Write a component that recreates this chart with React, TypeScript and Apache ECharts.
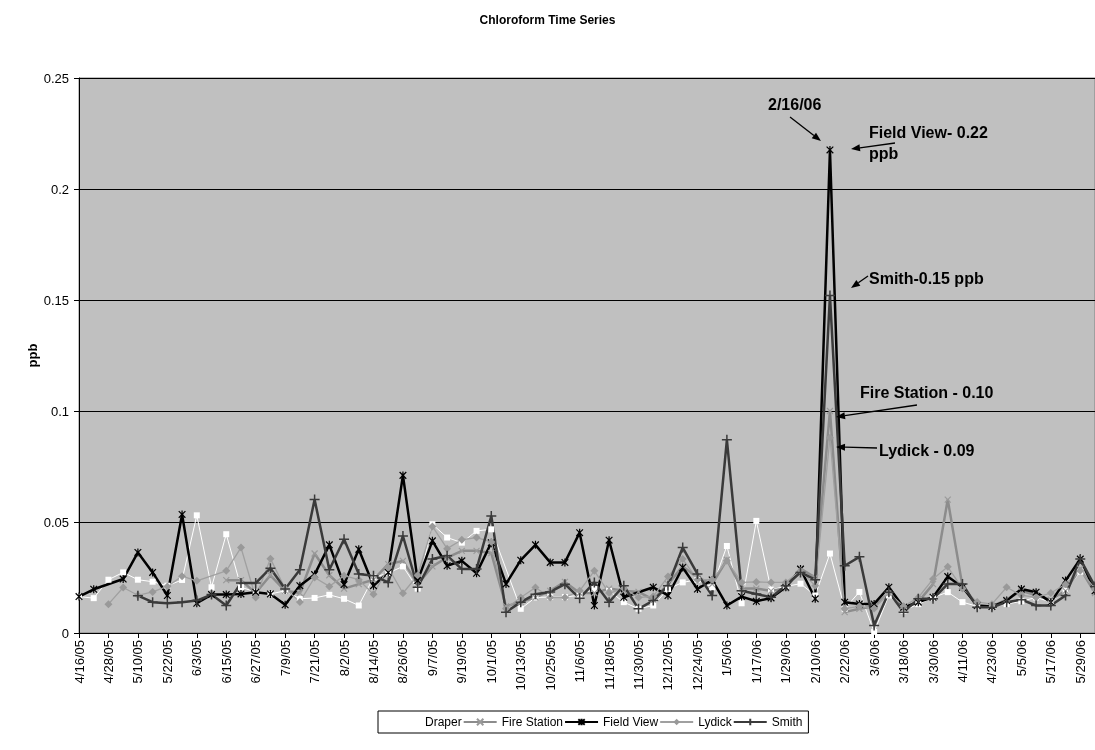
import React, { useEffect, useRef } from "react";
import * as echarts from "echarts";

const dates = ["4/16/05","4/22/05","4/28/05","5/4/05","5/10/05","5/16/05","5/22/05","5/28/05","6/3/05","6/9/05","6/15/05","6/21/05","6/27/05","7/3/05","7/9/05","7/15/05","7/21/05","7/27/05","8/2/05","8/8/05","8/14/05","8/20/05","8/26/05","9/1/05","9/7/05","9/13/05","9/19/05","9/25/05","10/1/05","10/7/05","10/13/05","10/19/05","10/25/05","10/31/05","11/6/05","11/12/05","11/18/05","11/24/05","11/30/05","12/6/05","12/12/05","12/18/05","12/24/05","12/30/05","1/5/06","1/11/06","1/17/06","1/23/06","1/29/06","2/4/06","2/10/06","2/16/06","2/22/06","2/28/06","3/6/06","3/12/06","3/18/06","3/24/06","3/30/06","4/5/06","4/11/06","4/17/06","4/23/06","4/29/06","5/5/06","5/11/06","5/17/06","5/23/06","5/29/06","6/4/06"];

const draper = [0.0164,0.0157,0.024,0.0273,0.024,0.0231,0.0213,0.0239,0.053,0.0206,0.0445,0.0206,0.0185,0.0176,0.019,0.0154,0.0158,0.0172,0.0154,0.0124,0.025,0.027,0.03,0.02,0.049,0.043,0.0407,0.046,0.0467,null,0.0109,0.016,0.0162,0.0162,0.017,0.0198,0.019,0.0139,0.0109,0.0124,0.0198,0.0228,0.024,0.0206,0.0392,0.0134,0.0505,0.0195,0.021,0.0222,0.0169,0.0358,0.0109,0.0185,0.0005,0.0169,0.0101,0.013,0.016,0.0184,0.0139,0.012,0.012,0.013,0.0143,0.016,0.014,0.019,0.0276,0.02];

const fireStation = [null,null,null,null,null,null,null,null,null,null,0.0238,0.0238,0.018,0.026,0.019,0.018,0.0358,0.026,0.02,0.022,0.024,0.031,0.0325,0.022,0.03,0.034,0.037,0.037,0.036,0.012,0.014,0.016,0.019,0.023,0.018,0.018,0.02,0.019,0.0185,0.015,0.022,0.03,0.025,0.022,0.033,0.02,0.02,0.019,0.02,0.029,0.025,0.1,0.0094,0.0109,0.012,0.018,0.011,0.014,0.022,0.0601,0.021,0.012,0.012,0.015,0.019,0.017,0.015,0.019,0.029,0.018];

const fieldView = [0.0164,0.0197,null,0.0243,0.0363,0.0273,0.0169,0.0534,0.0134,0.0173,0.0173,0.0176,0.0184,0.0176,0.0127,0.0213,0.0263,0.0397,0.0218,0.0377,0.0213,0.0273,0.071,0.0236,0.0415,0.0303,0.0325,0.0269,0.0407,0.0221,0.0328,0.0397,0.0318,0.0318,0.0452,0.0124,0.0418,0.0161,null,0.0206,0.0169,0.0295,0.0198,0.0239,0.0124,0.0164,0.0143,0.0158,0.0206,0.0288,0.0154,0.2176,0.0139,0.0131,0.0131,0.0206,0.0116,0.0139,0.0161,0.0254,0.0206,0.0124,0.0119,0.0146,0.0198,0.0184,0.0139,0.0236,0.0333,0.019];

const lydick = [null,null,0.013,0.0205,0.017,0.0185,0.021,0.0256,0.0235,null,0.028,0.0385,0.016,0.0335,0.02,0.014,0.025,0.021,0.0258,0.024,0.0174,0.0295,0.0179,0.026,0.048,0.038,0.042,0.043,0.041,0.011,0.016,0.0205,0.016,0.016,0.019,0.028,0.018,0.02,0.016,0.0165,0.0254,0.0333,0.024,0.024,0.0325,0.0228,0.023,0.0228,0.0228,0.028,0.0213,0.088,0.011,0.012,0.011,0.018,0.012,0.016,0.0243,0.0298,0.02,0.014,0.013,0.0206,0.017,0.016,0.018,0.022,0.028,0.02];

const smith = [null,null,null,null,0.0168,0.0139,0.0134,0.0139,0.0146,0.0173,0.0124,0.0225,0.0225,0.0292,0.0198,0.0285,0.0601,0.0285,0.0422,0.0266,0.0258,0.0228,0.0437,0.0206,0.0333,0.0348,0.0288,0.0288,0.0527,0.0094,0.0139,0.0175,0.0185,0.022,0.0156,0.0228,0.0139,0.0213,0.0109,0.0146,0.0213,0.0385,0.0266,0.0169,0.087,0.019,0.0176,0.0161,0.0213,0.0273,0.024,0.152,0.0303,0.0343,0.0034,0.0184,0.0094,0.0154,0.0154,0.0221,0.0221,0.0116,0.0116,0.0139,0.015,0.0124,0.0124,0.0169,0.0333,0.021];

const yTicks = [0, 0.05, 0.1, 0.15, 0.2, 0.25];

const FONT = "'Liberation Sans', Arial, sans-serif";

function arrow(x1: number, y1: number, x2: number, y2: number) {
  const a = Math.atan2(y2 - y1, x2 - x1);
  const L = 9, W = 3.5;
  const bx = x2 - L * Math.cos(a), by = y2 - L * Math.sin(a);
  const px = -Math.sin(a) * W, py = Math.cos(a) * W;
  return [
    { type: "line", z: 100, shape: { x1, y1, x2: bx, y2: by }, style: { stroke: "#000", lineWidth: 1.3 } },
    { type: "polygon", z: 100, shape: { points: [[x2, y2], [bx + px, by + py], [bx - px, by - py]] }, style: { fill: "#000" } },
  ];
}

function label(text: string, x: number, y: number) {
  return {
    type: "text", z: 100, x, y,
    style: { text, fill: "#000", font: `bold 16px ${FONT}`, textVerticalAlign: "middle", verticalAlign: "middle" },
  };
}

export default function App() {
  const ref = useRef<HTMLDivElement>(null);
  useEffect(() => {
    if (!ref.current) return;
    const chart = echarts.init(ref.current, null, { renderer: "svg" });
    const symX = "path://M0,0L10,10M10,0L0,10";
    const symStar = "path://M0,0L10,10M10,0L0,10M5,-1L5,11";
    const symPlus = "path://M5,0L5,10M0,5L10,5";
    const mk = (name: string, data: any[], color: string, lw: number, symbol: string, size: number, fill: string, stroke: string, bw: number) => ({
      name, type: "line", data, connectNulls: true, silent: true,
      symbol, symbolSize: size, symbolKeepAspect: true, showAllSymbol: true,
      lineStyle: { color, width: lw },
      itemStyle: { color: fill, borderColor: stroke, borderWidth: bw },
      emphasis: { disabled: true },
    });
    chart.setOption({
      animation: false,
      title: {
        text: "Chloroform Time Series", left: "center", top: 9,
        textStyle: { fontFamily: FONT, fontSize: 12, fontWeight: "bold", color: "#000" },
      },
      grid: {
        left: 79, top: 78, right: -3, bottom: 117,
        show: true, backgroundColor: "#C0C0C0", borderColor: "#808080", borderWidth: 1,
      },
      legend: {
        left: 378, top: 711,
        backgroundColor: "#fff", borderColor: "#000", borderWidth: 1,
        padding: [5, 6, 5, 8], itemGap: 1, itemWidth: 33, itemHeight: 8,
        textStyle: { fontFamily: FONT, fontSize: 12, color: "#000" },
        data: ["Draper", "Fire Station", "Field View", "Lydick", "Smith"],
      },
      xAxis: {
        type: "category", data: dates, boundaryGap: false,
        axisLine: { lineStyle: { color: "#000", width: 1 } },
        axisTick: { interval: 1, length: 5, lineStyle: { color: "#000" } },
        axisLabel: { interval: 1, rotate: 90, margin: 7, fontFamily: FONT, fontSize: 13, color: "#000" },
        splitLine: { show: false },
      },
      yAxis: {
        type: "value", min: yTicks[0], max: yTicks[yTicks.length - 1], interval: 0.05,
        name: "ppb", nameLocation: "middle", nameRotate: 90, nameGap: 40, nameMoveOverlap: false,
        nameTextStyle: { fontFamily: FONT, fontSize: 13, fontWeight: "bold", color: "#000" },
        axisLine: { show: true, lineStyle: { color: "#000", width: 1 } },
        axisTick: { show: true, length: 5, lineStyle: { color: "#000" } },
        axisLabel: { fontFamily: FONT, fontSize: 13, color: "#000", margin: 10 },
        splitLine: { show: true, lineStyle: { color: "#000", width: 1 } },
      },
      series: [
        mk("Draper", draper, "#FFFFFF", 1, "rect", 6, "#FFFFFF", "#FFFFFF", 0),
        mk("Fire Station", fireStation, "#8C8C8C", 2.5, symX, 6, "none", "#9A9A9A", 1.2),
        mk("Field View", fieldView, "#000000", 2.5, symStar, 8, "none", "#000000", 1.2),
        mk("Lydick", lydick, "#A0A0A0", 1.3, "diamond", 8, "#999999", "#999999", 0),
        mk("Smith", smith, "#3A3A3A", 2.5, symPlus, 10, "none", "#3A3A3A", 1.5),
      ],
      graphic: [
        label("2/16/06", 768, 104),
        ...arrow(790, 117, 821, 141),
        label("Field View- 0.22", 869, 132),
        label("ppb", 869, 153),
        ...arrow(895, 143, 851, 149),
        label("Smith-0.15 ppb", 869, 278),
        ...arrow(868, 276, 851, 288),
        label("Fire Station - 0.10", 860, 392),
        ...arrow(917, 405, 836, 417),
        label("Lydick - 0.09", 879, 450),
        ...arrow(877, 448, 836, 447),
      ],
    });
    return () => chart.dispose();
  }, []);
  return <div ref={ref} style={{ position: "fixed", left: 0, top: 0, width: 1095, height: 750 }} />;
}
